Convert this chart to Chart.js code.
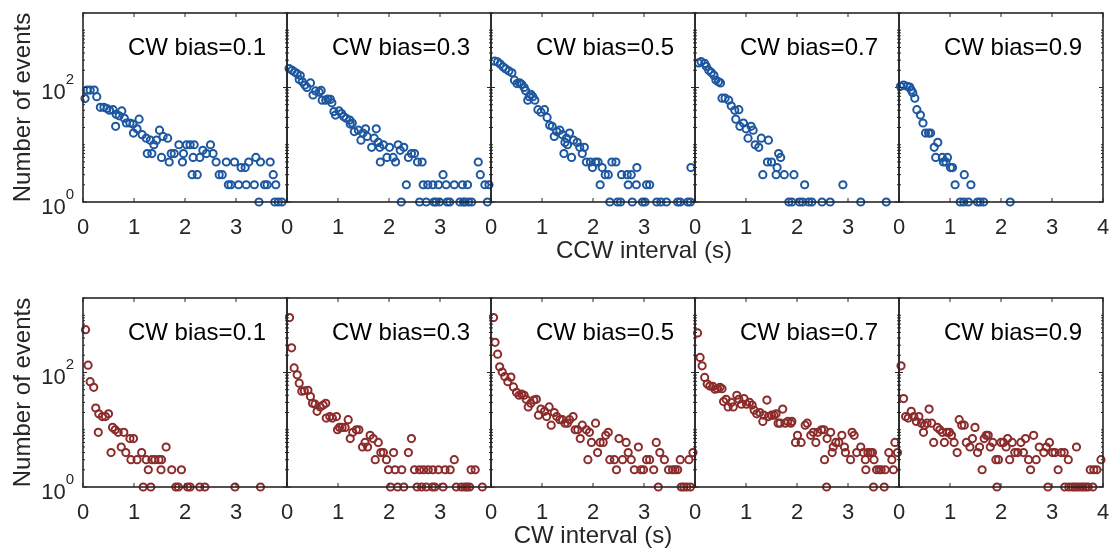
<!DOCTYPE html>
<html>
<head>
<meta charset="utf-8">
<title>CCW / CW interval distributions</title>
<script src="https://cdn.jsdelivr.net/npm/chart.js@4.4.1/dist/chart.umd.min.js"></script>
<style>
  body { margin: 0; background: #fff; }
  #wrap { position: relative; width: 1110px; height: 556px; overflow: hidden; }
  #wrap canvas { position: absolute; }
</style>
</head>
<body>
<div id="wrap"></div>
<script>
const biasLabels = ['0.1', '0.3', '0.5', '0.7', '0.9'];
const xTicks = [0, 1, 2, 3, 4];
const yTicks = [1, 100];
const yMin = 1, yMax = 2000;

// top row: CCW interval (s) and number of events, one pair of arrays per CW bias
const ccwT1 = [0.04,0.08,0.14,0.22,0.27,0.34,0.41,0.47,0.52,0.59,0.64,0.65,0.71,0.76,0.81,0.85,0.92,0.98,0.99,1.06,1.10,1.16,1.24,1.26,1.32,1.35,1.39,1.44,1.50,1.54,1.57,1.66,1.69,1.73,1.79,1.88,1.95,1.97,2.03,2.10,2.14,2.16,2.18,2.24,2.29,2.35,2.42,2.50,2.55,2.61,2.67,2.73,2.81,2.85,2.90,2.97,3.05,3.10,3.18,3.20,3.25,3.36,3.39,3.45,3.48,3.56,3.61,3.67,3.73,3.76,3.78,3.83,3.90];
const ccwN1 = [64,90,90,90,69,45,45,43,40,41,21,34,32,39,29,24,24,23,16,19,28,15,13,7,12,7,10,12,18,6,14,13,5,7,7,10,5,7,10,10,3,6,10,3,6,8,7,10,7,5,3,3,5,2,2,5,2,4,4,2,5,2,6,1,5,2,2,5,3,1,2,1,1];

const ccwT2 = [0.04,0.10,0.15,0.20,0.26,0.24,0.30,0.35,0.39,0.46,0.51,0.56,0.63,0.67,0.69,0.76,0.80,0.85,0.88,0.92,0.95,1.02,1.07,1.11,1.16,1.23,1.28,1.24,1.32,1.40,1.45,1.49,1.54,1.57,1.66,1.75,1.71,1.79,1.82,1.83,1.89,1.96,2.01,2.08,2.13,2.18,2.22,2.29,2.38,2.44,2.50,2.56,2.65,2.34,2.67,2.76,2.86,2.97,3.06,3.12,3.28,3.44,3.54,3.75,3.79,3.88,3.96,2.24,2.60,2.73,2.88,2.92,2.99,3.14,3.19,3.39,3.46,3.49,3.56,3.62,3.93];
const ccwN2 = [214,200,186,174,162,138,126,110,100,120,74,87,83,89,60,60,63,62,54,38,33,39,35,31,29,27,24,23,17,18,12,16,19,14,9,19,13,11,9,5,10,6,9,6,5,10,8,9,6,7,7,5,5,2,2,2,2,2,3,2,2,2,2,5,3,2,2,1,1,1,1,1,1,1,1,1,1,1,1,1,1];

const ccwT3 = [0.07,0.13,0.18,0.24,0.29,0.35,0.41,0.46,0.51,0.56,0.60,0.65,0.68,0.72,0.75,0.78,0.82,0.86,0.92,0.98,1.05,1.10,1.15,1.20,1.24,1.29,1.35,1.40,1.48,1.54,1.43,1.45,1.50,1.58,1.62,1.69,1.74,1.83,1.79,1.87,1.95,1.99,2.05,2.10,2.14,2.18,2.24,2.30,2.37,2.45,2.56,2.67,2.75,2.86,2.69,2.85,3.05,3.11,3.92,2.33,2.48,2.54,2.77,2.97,3.02,3.25,3.33,3.44,3.66,3.71,3.86,3.91];
const ccwN3 = [288,280,257,229,211,195,181,134,117,121,114,100,88,60,69,76,69,60,41,37,41,30,22,21,14,17,18,15,13,16,7,11,10,6,12,11,9,9,7,5,5,4,5,5,2,4,3,3,5,5,3,3,3,4,2,2,2,2,4,1,1,1,1,1,1,1,1,1,1,1,1,1];

const ccwT4 = [0.07,0.12,0.19,0.22,0.27,0.32,0.37,0.41,0.46,0.50,0.53,0.59,0.66,0.71,0.78,0.86,0.80,0.88,0.95,1.00,1.10,1.14,1.04,1.18,1.25,1.30,1.44,1.64,1.68,1.42,1.50,1.61,1.33,1.59,1.75,1.94,2.15,2.90,1.84,1.90,2.05,2.11,2.23,2.29,2.49,2.65,3.25,3.75];
const ccwN4 = [269,282,263,234,200,182,163,135,126,120,65,65,60,48,40,41,28,21,24,19,21,18,13,10,9,13,12,7,6,5,5,4,3,3,3,3,2,2,1,1,1,1,1,1,1,1,1,1];

const ccwT5 = [0.03,0.09,0.16,0.21,0.24,0.27,0.31,0.35,0.42,0.47,0.52,0.58,0.62,0.69,0.76,0.72,0.85,0.87,0.92,0.95,1.01,1.05,1.28,1.41,1.10,1.20,1.27,1.36,1.54,1.59,1.66,2.18];
const ccwN5 = [105,110,105,102,90,81,65,41,33,24,16,16,16,9,11,6,6,5,5,6,4,4,3,2,2,1,1,1,1,1,1,1];

// bottom row: CW interval (s) and number of events
const cwT1 = [0.05,0.10,0.14,0.21,0.25,0.31,0.38,0.44,0.50,0.30,0.58,0.63,0.69,0.80,0.92,0.99,0.75,0.55,0.84,0.94,1.06,1.15,1.24,1.35,1.41,1.49,1.54,1.63,1.28,1.53,1.74,1.93,1.18,1.33,1.82,1.87,2.05,2.10,2.29,2.39,2.98,3.48];
const cwN1 = [560,134,69,55,24,19,17,17,19,9,11,10,9,9,7,7,5,4,4,3,3,4,3,3,3,3,3,5,2,2,2,2,1,1,1,1,1,1,1,1,1,1];

const cwT2 = [0.05,0.09,0.14,0.20,0.24,0.29,0.34,0.41,0.46,0.50,0.55,0.59,0.65,0.71,0.76,0.77,0.84,0.89,0.97,0.99,1.03,1.08,1.14,1.20,1.24,1.29,1.36,1.41,1.48,1.53,1.58,1.63,1.69,1.73,1.79,1.84,1.89,1.95,2.09,2.38,2.44,1.99,2.12,2.25,2.50,2.60,2.68,2.77,2.86,2.97,3.10,3.20,3.61,3.69,3.28,2.03,2.17,2.29,2.55,2.64,2.73,2.85,2.90,3.06,3.32,3.42,3.49,3.53,3.58,3.83];
const cwN2 = [910,270,120,91,65,47,48,49,38,29,28,21,25,27,29,16,17,16,17,10,11,11,11,15,7,9,10,10,5,6,5,8,7,3,6,4,4,3,4,4,7,2,2,2,2,2,2,2,2,2,2,2,2,2,3,1,1,1,1,1,1,1,1,1,1,1,1,1,1,1];

const cwT3 = [0.05,0.08,0.13,0.17,0.22,0.27,0.33,0.39,0.44,0.50,0.55,0.60,0.65,0.69,0.73,0.78,0.84,0.89,0.93,0.98,1.05,1.09,1.14,1.18,1.24,1.29,1.35,1.40,1.45,1.50,1.54,1.61,1.65,1.70,1.75,1.79,1.87,1.93,1.97,2.05,1.90,2.09,2.14,2.20,2.25,2.30,2.33,2.42,2.46,2.51,2.58,2.65,2.69,2.75,2.81,2.89,2.94,2.99,3.05,3.11,3.19,3.24,3.31,3.40,3.48,3.56,3.61,3.66,3.71,3.88,3.96,3.28,3.73,3.78,3.84,3.91];
const cwN3 = [910,336,209,126,102,85,69,83,56,45,40,42,40,34,25,29,33,34,18,23,21,17,25,12,20,17,15,15,13,13,15,17,10,10,7,12,10,9,6,13,3,4,6,6,8,9,3,3,2,7,3,6,4,3,2,5,2,2,3,3,2,6,4,3,2,2,2,2,3,3,4,1,1,1,1,1];

const cwT4 = [0.05,0.10,0.14,0.19,0.24,0.29,0.35,0.39,0.44,0.49,0.53,0.56,0.61,0.65,0.71,0.75,0.82,0.86,0.91,0.96,1.01,1.07,1.12,1.16,1.21,1.27,1.33,1.35,1.41,1.44,1.50,1.55,1.59,1.63,1.67,1.72,1.77,1.82,1.88,1.90,1.97,2.01,2.08,2.16,2.20,2.27,2.32,2.37,2.41,2.48,2.53,2.59,2.66,2.54,2.71,2.76,2.82,2.69,2.88,2.93,2.95,3.05,3.08,3.12,3.17,3.25,3.30,3.34,3.39,3.44,3.48,3.35,3.51,3.56,3.61,3.65,3.73,3.80,3.86,3.92,3.89,3.97,2.58,3.50,3.71];
const cwN4 = [490,183,131,82,63,58,57,51,52,55,52,31,34,25,30,25,40,34,28,35,28,30,27,22,19,20,14,18,33,17,18,18,19,13,13,23,13,14,13,14,6,8,6,12,13,8,9,6,9,10,10,7,9,3,5,6,6,4,8,5,4,3,9,8,4,5,4,3,4,4,4,2,3,2,2,2,2,4,3,6,2,4,1,1,1];

const cwT5 = [0.04,0.09,0.13,0.18,0.24,0.29,0.34,0.39,0.44,0.50,0.48,0.55,0.59,0.64,0.68,0.75,0.80,0.85,0.89,0.94,0.99,1.03,1.08,1.14,1.18,1.23,1.28,1.32,1.39,1.44,1.49,1.54,1.58,1.63,1.67,1.71,1.75,1.79,1.84,1.90,1.95,2.00,2.05,2.10,2.13,2.17,2.22,2.27,2.33,2.39,2.44,2.48,2.54,2.58,2.64,2.69,2.75,2.84,2.89,2.95,3.01,3.06,3.12,3.18,3.24,3.32,3.48,3.75,3.82,3.88,3.96,1.92,2.92,3.25,3.33,3.40,3.45,3.50,3.56,3.61,3.66,3.71,3.80];
const cwN5 = [131,35,17,16,21,17,14,17,13,12,9,13,23,13,6,11,10,9,6,9,9,8,6,4,15,12,12,6,5,7,11,4,5,2,7,8,8,5,6,3,3,6,6,5,7,3,6,4,4,6,4,7,3,2,8,3,5,4,5,6,4,4,2,4,4,3,5,2,2,2,3,1,1,1,1,1,1,1,1,1,1,1,1];

const rows = [
    { xTitle: 'CCW interval (s)', titleShift: 51, color: '#1d57a0', T: [ccwT1, ccwT2, ccwT3, ccwT4, ccwT5], N: [ccwN1, ccwN2, ccwN3, ccwN4, ccwN5] },
    { xTitle: 'CW interval (s)', titleShift: 0, color: '#8c2b2b', T: [cwT1, cwT2, cwT3, cwT4, cwT5], N: [cwN1, cwN2, cwN3, cwN4, cwN5] }
];

// layout of the 2 x 5 panel grid (page pixels)
const PANEL_W = 204, PANEL_H = 189;
const panelLeft = [83, 287, 491, 695, 899];
const rowTop = [13, 298];
const FONT = '"Liberation Sans", Arial, Helvetica, sans-serif';
const AXIS = '#262626';

Chart.defaults.font.family = FONT;

// MATLAB-like box: frame, inward ticks, panel label, 10^n labels, row x title
const framePlugin = {
    id: 'frame',
    afterDatasetsDraw(chart, args, opts) {
        const { ctx, chartArea: a, scales: { x, y } } = chart;
        ctx.save();
        ctx.strokeStyle = AXIS;
        ctx.lineWidth = 1.6;
        ctx.strokeRect(a.left, a.top, a.width, a.height);

        ctx.lineWidth = 1;
        ctx.beginPath();
        xTicks.forEach(v => {
            const px = x.getPixelForValue(v);
            ctx.moveTo(px, a.bottom); ctx.lineTo(px, a.bottom - 4);
            ctx.moveTo(px, a.top); ctx.lineTo(px, a.top + 4);
        });
        for (let d = 1; d <= 1000; d *= 10) {
            for (let m = 1; m <= 9; m++) {
                const v = d * m;
                if (v > yMax) break;
                const len = yTicks.includes(v) ? 4 : 2;
                const py = y.getPixelForValue(v);
                ctx.moveTo(a.left, py); ctx.lineTo(a.left + len, py);
                ctx.moveTo(a.right, py); ctx.lineTo(a.right - len, py);
            }
        }
        ctx.stroke();

        ctx.fillStyle = '#000';
        ctx.font = '24px ' + FONT;
        ctx.textAlign = 'right';
        ctx.textBaseline = 'alphabetic';
        ctx.fillText('CW bias=' + opts.bias, a.right - 21, a.top + 42);

        if (opts.yLabels) {
            ctx.fillStyle = AXIS;
            yTicks.forEach(v => {
                const py = y.getPixelForValue(v);
                const exp = String(Math.round(Math.log10(v)));
                ctx.font = '15px ' + FONT;
                const ew = ctx.measureText(exp).width;
                ctx.fillText(exp, a.left - 9, py - 3);
                ctx.font = '22px ' + FONT;
                ctx.fillText('10', a.left - 9 - ew, py + 12);
            });
        }

        if (opts.xTitle) {
            ctx.fillStyle = AXIS;
            ctx.font = '24px ' + FONT;
            ctx.textAlign = 'center';
            ctx.textBaseline = 'middle';
            ctx.fillText(opts.xTitle, (a.left + a.right) / 2 + opts.titleShift, a.bottom + 49);
        }
        ctx.restore();
    }
};

const wrap = document.getElementById('wrap');

rows.forEach((row, r) => {
    biasLabels.forEach((bias, c) => {
        const padL = c === 0 ? 83 : 20;
        const padR = c === 2 ? 80 : 20;
        const canvas = document.createElement('canvas');
        canvas.width = padL + PANEL_W + padR;
        canvas.height = 10 + PANEL_H + 64;
        canvas.style.left = (panelLeft[c] - padL) + 'px';
        canvas.style.top = (rowTop[r] - 10) + 'px';
        wrap.appendChild(canvas);

        const points = row.T[c].map((t, i) => ({ x: t, y: row.N[c][i] }));

        new Chart(canvas, {
            type: 'scatter',
            data: {
                datasets: [{
                    data: points,
                    borderColor: row.color,
                    backgroundColor: 'rgba(0,0,0,0)',
                    pointRadius: 3.6,
                    pointBorderWidth: 2,
                    clip: false
                }]
            },
            options: {
                responsive: false,
                animation: false,
                events: [],
                layout: { padding: { left: c === 0 ? 0 : padL, right: padR, top: 10, bottom: 0 } },
                plugins: {
                    legend: { display: false },
                    tooltip: { enabled: false },
                    frame: {
                        bias: bias,
                        yLabels: c === 0,
                        xTitle: c === 2 ? row.xTitle : null,
                        titleShift: row.titleShift
                    }
                },
                scales: {
                    x: {
                        type: 'linear',
                        min: 0,
                        max: 4,
                        grid: { display: false, drawTicks: false },
                        border: { display: false },
                        afterBuildTicks: s => { s.ticks = xTicks.map(v => ({ value: v })); },
                        afterFit: s => { s.height = 64; },
                        ticks: {
                            autoSkip: false,
                            maxRotation: 0,
                            padding: 13,
                            color: AXIS,
                            font: { size: 22 },
                            callback: v => (v === 4 && c < 4) ? '' : String(v)
                        }
                    },
                    y: {
                        type: 'logarithmic',
                        min: yMin,
                        max: yMax,
                        grid: { display: false, drawTicks: false },
                        border: { display: false },
                        ticks: { display: false },
                        afterFit: s => { s.width = c === 0 ? 83 : 0; },
                        title: {
                            display: c === 0,
                            text: 'Number of events',
                            color: AXIS,
                            font: { size: 24 },
                            padding: { top: 9, bottom: 0 }
                        }
                    }
                }
            },
            plugins: [framePlugin]
        });
    });
});
</script>
</body>
</html>
